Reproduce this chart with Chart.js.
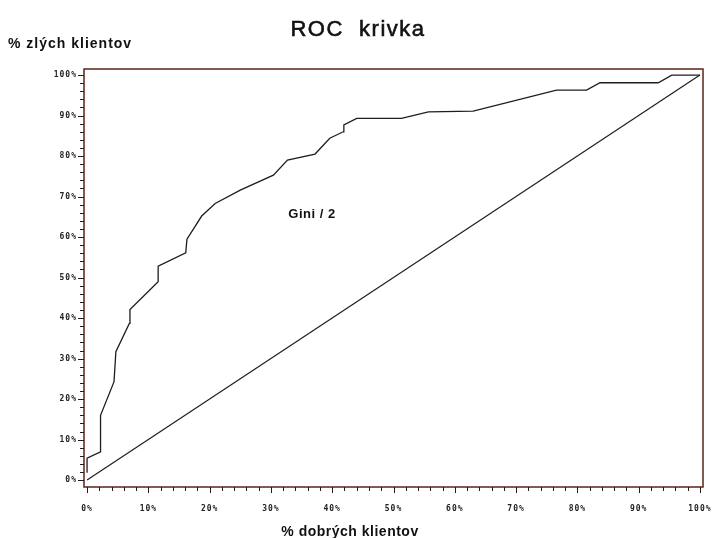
<!DOCTYPE html>
<html>
<head>
<meta charset="utf-8">
<script src="https://cdn.jsdelivr.net/npm/chart.js@4.4.0/dist/chart.umd.min.js"></script>
<style>
  body { margin: 0; background: #fff; }
  canvas { display: block; }
</style>
</head>
<body>
<canvas id="graf" width="712" height="538"></canvas>
<script>
// ROC krivka - body odcitane z obrazku
var dobri = [0, 0, 2.2, 2.2, 4.4, 4.7, 6.9, 7.0, 11.6, 11.6, 16.1, 16.3, 18.7, 20.9, 25.0, 30.4, 32.7, 37.2, 39.6, 41.8, 41.9, 44.0, 51.3, 55.7, 63.0, 76.6, 81.5, 83.7, 93.2, 95.4, 100];
var zli = [1.8, 5.4, 7.0, 16.0, 24.3, 31.7, 38.7, 42.1, 49.0, 52.8, 56.1, 59.5, 65.2, 68.3, 71.6, 75.3, 79.0, 80.5, 84.4, 86.0, 87.7, 89.3, 89.3, 90.9, 91.1, 96.3, 96.3, 98.1, 98.1, 100, 100];
var diagX = [0, 100];
var diagY = [0, 100];
var tickHodnoty = [0, 10, 20, 30, 40, 50, 60, 70, 80, 90, 100];
var tickLabels = ["0%", "10%", "20%", "30%", "40%", "50%", "60%", "70%", "80%", "90%", "100%"];

var farbaCiary = "#231c1a";
var farbaRamu = "#5a2519";

function body(xs, ys) {
    return xs.map(function (x, i) { return { x: x, y: ys[i] }; });
}

var dekor = {
    id: "dekor",
    afterDraw: function (chart) {
        var c = chart.ctx, a = chart.chartArea;
        var sx = chart.scales.x, sy = chart.scales.y;
        c.save();
        // ram
        c.strokeStyle = farbaRamu;
        c.lineWidth = 1.5;
        c.strokeRect(a.left, a.top, a.right - a.left, a.bottom - a.top);
        // male a velke ticky
        c.lineWidth = 1;
        c.strokeStyle = farbaCiary;
        c.beginPath();
        for (var v = 0; v <= 100; v += 2) {
            var dl = (v % 10 === 0) ? 6 : 4;
            var px = Math.round(sx.getPixelForValue(v)) + 0.5;
            c.moveTo(px, a.bottom);
            c.lineTo(px, a.bottom + dl);
            var py = Math.round(sy.getPixelForValue(v)) + 0.5;
            c.moveTo(a.left, py);
            c.lineTo(a.left - dl, py);
        }
        c.stroke();
        // popisky tickov
        c.fillStyle = "#222";
        c.font = 'bold 8px "DejaVu Sans Mono"';
        c.letterSpacing = "1px";
        c.textBaseline = "middle";
        tickHodnoty.forEach(function (v, i) {
            c.textAlign = "center";
            c.fillText(tickLabels[i], sx.getPixelForValue(v), 509);
            c.textAlign = "right";
            c.fillText(tickLabels[i], 77, sy.getPixelForValue(v));
        });
        // nadpisy
        c.textBaseline = "alphabetic";
        c.fillStyle = "#111";
        c.strokeStyle = "#111";
        c.textAlign = "center";
        c.font = '22px "Liberation Sans"';
        c.letterSpacing = "1.5px";
        c.lineWidth = 0.6;
        c.fillText("ROC  krivka", 358, 36);
        c.strokeText("ROC  krivka", 358, 36);
        c.font = 'bold 14px "Liberation Sans"';
        c.letterSpacing = "1px";
        c.textAlign = "left";
        c.fillText("% zlých klientov", 8, 48);
        c.textAlign = "center";
        c.font = 'bold 14px "Liberation Sans"';
        c.letterSpacing = "0.5px";
        c.fillText("% dobrých klientov", 350, 536);
        c.font = 'bold 13px "Liberation Sans"';
        c.textBaseline = "middle";
        c.fillText("Gini / 2", sx.getPixelForValue(36.7), sy.getPixelForValue(65.6));
        c.restore();
    }
};

var ctx = document.getElementById("graf").getContext("2d");
var graf = new Chart(ctx, {
    type: "scatter",
    data: {
        datasets: [
            {
                label: "ROC",
                data: body(dobri, zli),
                showLine: true,
                borderColor: farbaCiary,
                borderWidth: 1.3,
                pointRadius: 0,
                lineTension: 0
            },
            {
                label: "diagonala",
                data: body(diagX, diagY),
                showLine: true,
                borderColor: farbaCiary,
                borderWidth: 1.2,
                pointRadius: 0,
                lineTension: 0
            }
        ]
    },
    options: {
        responsive: false,
        animation: false,
        layout: { padding: { left: 84, right: 9, top: 69, bottom: 51 } },
        plugins: { legend: { display: false }, tooltip: { enabled: false }, title: { display: false } },
        scales: {
            x: { type: "linear", min: -0.5, max: 100.5, display: false },
            y: { type: "linear", min: -1.7, max: 101.5, display: false }
        }
    },
    plugins: [dekor]
});
</script>
</body>
</html>
